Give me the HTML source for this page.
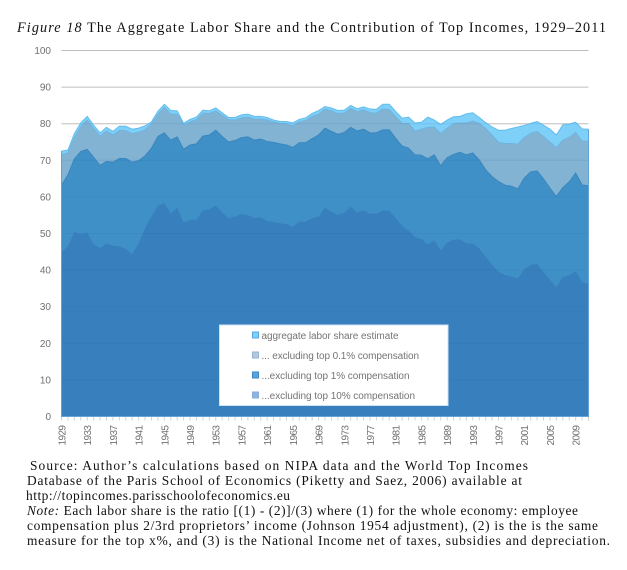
<!DOCTYPE html>
<html lang="en">
<head>
<meta charset="utf-8">
<title>Figure 18 - The Aggregate Labor Share</title>
<style>
html,body{margin:0;padding:0;background:#fff;width:627px;height:570px;overflow:hidden}
svg{display:block;filter:blur(0.3px)}
.serif{font-family:"Liberation Serif",serif;fill:#111}
.axis{font-family:"Liberation Sans",sans-serif;fill:#707070;font-size:10px}
.leg{font-family:"Liberation Sans",sans-serif;fill:#747474;font-size:10px}
</style>
</head>
<body>
<svg id="chart" xmlns="http://www.w3.org/2000/svg" width="627" height="570" viewBox="0 0 627 570">
  <text class="serif" x="17" y="32" font-size="14.2" textLength="589" lengthAdjust="spacing"><tspan font-style="italic">Figure 18</tspan> The Aggregate Labor Share and the Contribution of Top Incomes, 1929–2011</text>
  <g id="grid-base"></g>
  <g id="areas"></g>
  <g id="grid-over"></g>
  <g id="edges"></g>
  <g id="x-axis"></g>
  <g id="y-axis"></g>
  <g>
    <rect x="219.5" y="325" width="228.5" height="80.5" fill="#fff" stroke="#cfe2f3" stroke-width="1"/>
    <g>
      <rect x="252.5" y="332" width="6" height="6" fill="#7ed0f8" stroke="#58a8e0" stroke-width="1"/>
      <text class="leg" x="261.5" y="338.8" textLength="137" lengthAdjust="spacing">aggregate labor share estimate</text>
    </g>
    <g>
      <rect x="252.5" y="352" width="6" height="6" fill="#bcc6d2" stroke="#8cb6da" stroke-width="1"/>
      <text class="leg" x="261.5" y="358.8" textLength="157.5" lengthAdjust="spacing">... excluding top 0.1% compensation</text>
    </g>
    <g>
      <rect x="252.5" y="372" width="6" height="6" fill="#5ea2d6" stroke="#3a88c8" stroke-width="1"/>
      <text class="leg" x="261.5" y="378.8" textLength="148" lengthAdjust="spacing">...excluding top 1% compensation</text>
    </g>
    <g>
      <rect x="252.5" y="392" width="6" height="6" fill="#93b3d9" stroke="#86aedb" stroke-width="1"/>
      <text class="leg" x="261.5" y="398.8" textLength="153.5" lengthAdjust="spacing">...excluding top 10% compensation</text>
    </g>
  </g>
  <g font-size="13.4">
    <text class="serif" x="30" y="470" textLength="498" lengthAdjust="spacing">Source: Author’s calculations based on NIPA data and the World Top Incomes</text>
    <text class="serif" x="27" y="485" textLength="495" lengthAdjust="spacing">Database of the Paris School of Economics (Piketty and Saez, 2006) available at</text>
    <text class="serif" x="26" y="500" textLength="264" lengthAdjust="spacing">http://topincomes.parisschoolofeconomics.eu</text>
    <text class="serif" x="27" y="515" textLength="551" lengthAdjust="spacing"><tspan font-style="italic">Note:</tspan> Each labor share is the ratio [(1) - (2)]/(3) where (1) for the whole economy: employee</text>
    <text class="serif" x="27" y="530" textLength="571" lengthAdjust="spacing">compensation plus 2/3rd proprietors’ income (Johnson 1954 adjustment), (2) is the is the same</text>
    <text class="serif" x="27" y="545" textLength="583" lengthAdjust="spacing">measure for the top x%, and (3) is the National Income net of taxes, subsidies and depreciation.</text>
  </g>
</svg>
<script>
const years = [1929,1930,1931,1932,1933,1934,1935,1936,1937,1938,1939,1940,1941,1942,1943,1944,1945,1946,1947,1948,1949,1950,1951,1952,1953,1954,1955,1956,1957,1958,1959,1960,1961,1962,1963,1964,1965,1966,1967,1968,1969,1970,1971,1972,1973,1974,1975,1976,1977,1978,1979,1980,1981,1982,1983,1984,1985,1986,1987,1988,1989,1990,1991,1992,1993,1994,1995,1996,1997,1998,1999,2000,2001,2002,2003,2004,2005,2006,2007,2008,2009,2010,2011];
const aggregateShare = [72.5,72.8,77.3,80.2,82,79.6,77.5,79,77.9,79.3,79.3,78.5,78.8,79.4,80.5,83.4,85.3,83.6,83.5,80.1,81.2,81.8,83.7,83.5,84.3,83,81.7,81.7,82.4,82.6,82,82,81.7,81,80.6,80.6,80.2,81.2,81.6,82.8,83.6,84.7,84.3,83.6,83.7,85,84.1,84.6,84,83.9,85.3,85.3,83.3,81.5,81.8,80.2,80.4,81.8,81,79.8,81,81.9,82,82.7,83,81.7,80.3,79.1,78.2,78.2,78.7,79.1,79.5,80.1,80.6,79.6,78.5,76.9,79.7,79.9,80.4,78.6,78.5];
const excludingTop01 = [71.6,72,76.2,79.2,81,78.7,76.6,78,76.9,78.1,78.1,77.3,77.7,78.3,79.9,82.6,84.5,82.6,82.6,79.6,80.5,81.1,82.9,82.8,83.5,82.3,81.1,81,81.6,81.8,81.3,81.3,81,80.5,80.1,80,79.4,80.5,80.9,82,82.6,84,83.5,82.8,82.9,84.2,83.3,83.8,83,82.9,84,83.9,81.9,80.1,80.1,78,78.5,79,79.1,77.3,78.8,80,80.2,80.2,80.7,80.1,78.7,76.9,74.9,74.6,74.6,74.4,76.2,77.4,77.9,76.5,75,73.4,75.5,76.3,77.6,75.3,75.2];
const excludingTop1 = [63.2,66,70.4,72.4,73,70.8,68.6,69.7,69.5,70.5,70.5,69.5,69.9,71.2,73.3,76.5,77.5,75.5,76.4,73,74.2,74.5,76.6,76.9,78.2,76.5,75,75.4,76.2,76.4,75.5,75.8,75.1,74.9,74.5,74.2,73.5,74.8,74.8,75.9,76.9,78.8,77.9,77.1,77.6,79,78,78.5,77.5,77.5,78.3,78.3,76,73.9,73.3,71.5,71.4,70.4,71.5,68.5,70.7,71.6,72.2,71.5,72,70.1,67.4,65.5,64.2,63.2,62.9,62.2,65.1,66.8,67.1,64.9,62.4,60.1,62.5,64.1,66.5,63.3,63];
const excludingTop10 = [44.9,46.6,50.4,49.8,50.2,47.1,46,47.3,46.7,46.5,45.8,44.4,47.3,51.5,54.6,57.6,58.3,55.5,57,53,53.7,53.8,56.3,56.6,57.7,55.8,54.1,54.6,55.4,55,54.2,54.4,53.4,53.2,52.8,52.6,51.8,53.3,53.2,54.2,54.6,57.1,55.9,55.1,55.7,57.3,55.7,56.3,55.4,55.4,56.3,56.3,54.2,52.1,50.8,49,48.5,47,48.2,45.4,47.5,48.3,48.4,47.3,47.3,45.9,43.7,41.4,39.5,38.7,38.3,37.7,40.2,41.5,41.7,39.4,37.4,35.4,38.1,38.6,39.7,36.7,36.3];
const yTickLabels = [0,10,20,30,40,50,60,70,80,90,100];

const NS = 'http://www.w3.org/2000/svg';
const plotLeft = 61.5, plotRight = 588.5, plotTop = 50.5, plotBottom = 416.5;
const yearMin = years[0], yearMax = years[years.length - 1];
function xScale(year) { return plotLeft + (year - yearMin) / (yearMax - yearMin) * (plotRight - plotLeft); }
function yScale(v) { return plotBottom - v / 100 * (plotBottom - plotTop); }
function linePath(values) {
  return values.map((v, i) => (i ? 'L' : 'M') + xScale(years[i]).toFixed(2) + ' ' + yScale(v).toFixed(2)).join(' ');
}
function areaPath(values) {
  return linePath(values) + ' L' + xScale(yearMax) + ' ' + yScale(0) + ' L' + xScale(yearMin) + ' ' + yScale(0) + ' Z';
}
function make(tag, parent) {
  const el = document.createElementNS(NS, tag);
  parent.appendChild(el);
  return el;
}

const svg = document.getElementById('chart');
const defs = make('defs', svg);
const clip = make('clipPath', defs);
clip.setAttribute('id', 'area-clip');
const clipShape = make('path', clip);
clipShape.setAttribute('d', areaPath(aggregateShare));

const gridBase = document.getElementById('grid-base');
const gridOver = document.getElementById('grid-over');
gridOver.setAttribute('clip-path', 'url(#area-clip)');
yTickLabels.forEach(function (tick) {
  if (tick === 0) return;
  const line = make('line', gridBase);
  
  
  line.setAttribute('x1', plotLeft);
  line.setAttribute('x2', plotRight);
  line.setAttribute('y1', yScale(tick));
  line.setAttribute('y2', yScale(tick));
  line.setAttribute('stroke', '#bdbdbd');
  line.setAttribute('stroke-width', '1');
  const over = make('line', gridOver);
  
  
  over.setAttribute('x1', plotLeft);
  over.setAttribute('x2', plotRight);
  over.setAttribute('y1', yScale(tick));
  over.setAttribute('y2', yScale(tick));
  over.setAttribute('stroke', 'rgba(30,90,140,0.1)');
  over.setAttribute('stroke-width', '1');
});

const areas = document.getElementById('areas');
const areaAggregate = make('path', areas);


areaAggregate.setAttribute('d', areaPath(aggregateShare));
areaAggregate.setAttribute('fill', '#7ed0f8');
const lineAggregate = make('path', areas);


lineAggregate.setAttribute('d', linePath(aggregateShare));
lineAggregate.setAttribute('fill', 'none');
lineAggregate.setAttribute('stroke', '#62bdec');
lineAggregate.setAttribute('stroke-width', '1');

const areaTop01 = make('path', areas);


areaTop01.setAttribute('d', areaPath(excludingTop01));
areaTop01.setAttribute('fill', '#82b3d3');
const lineTop01 = make('path', areas);


lineTop01.setAttribute('d', linePath(excludingTop01));
lineTop01.setAttribute('fill', 'none');
lineTop01.setAttribute('stroke', '#6fb4df');
lineTop01.setAttribute('stroke-width', '1');

const areaTop1 = make('path', areas);


areaTop1.setAttribute('d', areaPath(excludingTop1));
areaTop1.setAttribute('fill', '#4090c8');
const lineTop1 = make('path', areas);


lineTop1.setAttribute('d', linePath(excludingTop1));
lineTop1.setAttribute('fill', 'none');
lineTop1.setAttribute('stroke', '#3a86bf');
lineTop1.setAttribute('stroke-width', '1');

const areaTop10 = make('path', areas);


areaTop10.setAttribute('d', areaPath(excludingTop10));
areaTop10.setAttribute('fill', '#3880bd');

const edges = document.getElementById('edges');
const edgePath = make('path', edges);


edgePath.setAttribute('d', 'M' + xScale(yearMin) + ' ' + yScale(aggregateShare[0]) + ' L' + xScale(yearMin) + ' ' + yScale(0) + ' L' + xScale(yearMax) + ' ' + yScale(0) + ' L' + xScale(yearMax) + ' ' + yScale(aggregateShare[aggregateShare.length - 1]));
edgePath.setAttribute('fill', 'none');
edgePath.setAttribute('stroke', '#62a3d8');
edgePath.setAttribute('stroke-width', '1');

const xAxis = document.getElementById('x-axis');
years.forEach(function (year) {
  const x = xScale(year);
  const tick = make('line', xAxis);
  
  
  tick.setAttribute('x1', x);
  tick.setAttribute('x2', x);
  tick.setAttribute('y1', plotBottom + 0.5);
  tick.setAttribute('y2', plotBottom + 4);
  tick.setAttribute('stroke', '#d2d2d2');
  tick.setAttribute('stroke-width', '1');
  if ((year - yearMin) % 4 === 0) {
    const label = make('text', xAxis);
    
    
    label.setAttribute('class', 'axis');
    label.setAttribute('transform', 'translate(' + (x + 4) + ',425) rotate(-90)');
    label.setAttribute('textLength', '20.5');
    label.setAttribute('x', '-20.5');
    label.setAttribute('text-anchor', 'start');
    label.textContent = String(year);
  }
});

const yAxis = document.getElementById('y-axis');
yTickLabels.forEach(function (tick) {
  const label = make('text', yAxis);
  
  
  label.setAttribute('class', 'axis');
  label.setAttribute('text-anchor', 'end');
  label.setAttribute('x', '51');
  label.setAttribute('y', yScale(tick) + 3.5);
  label.textContent = String(tick);
});
</script>
</body>
</html>
